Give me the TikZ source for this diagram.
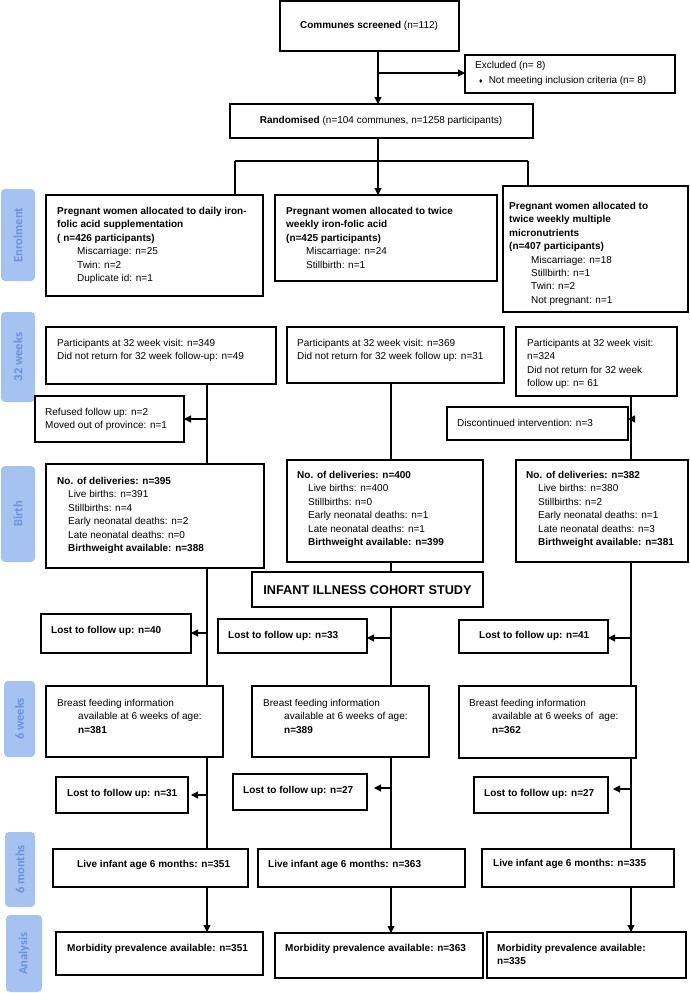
\documentclass[tikz,border=0pt]{standalone}
\usepackage{fontspec}
\setmainfont{Liberation Sans}
\newfontfamily\lblfont{Carlito}
\usetikzlibrary{arrows.meta,fit}
\definecolor{lblfill}{RGB}{166,194,240}
\definecolor{lbltext}{RGB}{104,146,222}
\tikzset{
  box/.style={draw=black, line width=1.3pt, inner sep=0pt, outer sep=0pt, rectangle},
  txt/.style={anchor=north west, inner sep=0pt, align=left, font=\fontsize{10}{13.4}\selectfont},
  ctxt/.style={anchor=center, inner sep=0pt, font=\fontsize{10}{13.4}\selectfont},
  lbl/.style={fill=lblfill, rounded corners=4pt, inner sep=0pt, outer sep=0pt},
  lbltxt/.style={rotate=90, text=lbltext, inner sep=0pt, font=\fontsize{12.5}{12.5}\selectfont\lblfont\bfseries},
  conn/.style={line width=1.1pt},
  arr/.style={conn, -{Triangle[length=7pt,width=7pt]}},
}
\begin{document}
\begin{tikzpicture}[x=1pt,y=-1pt]
\useasboundingbox (0,0) rectangle (689,993);

% ---------- stage labels ----------
\node[lbl, fit={(1,189)(35,281)}] (Lenr) {};
\node[lbltxt] (Lenrt) at (Lenr.center) {Enrolment};
\node[lbl, fit={(1,312)(35,402)}] (L32) {};
\node[lbltxt] (L32t) at (L32.center) {32 weeks};
\node[lbl, fit={(1,466)(35,562)}] (Lbir) {};
\node[lbltxt] (Lbirt) at (Lbir.center) {Birth};
\node[lbl, fit={(4,681)(35,757)}] (L6w) {};
\node[lbltxt] (L6wt) at (L6w.center) {6 weeks};
\node[lbl, fit={(5,832)(35,907)}] (L6m) {};
\node[lbltxt] (L6mt) at (L6m.center) {6 months};
\node[lbl, fit={(6,915)(42,992)}] (Lana) {};
\node[lbltxt] (Lanat) at (Lana.center) {Analysis};

% ---------- top ----------
\node[box, fit={(280,1)(459,51)}] (top) {};
\node[ctxt] (topt) at (369,26) {\textbf{Communes screened} (n=112)};
\node[box, fit={(465,55)(675,93)}] (excl) {};
\node[txt] (exclt) at (475,61) {Excluded (n= 8)\\[1.5pt]\hspace*{4pt}{\fontsize{7}{7}\selectfont ♦}\hspace*{6pt}Not meeting inclusion criteria (n= 8)};
\node[box, fit={(230,104)(533,138)}] (rand) {};
\node[ctxt] (randt) at (381,121) {\textbf{Randomised} (n=104 communes, n=1258 participants)};

% ---------- enrolment ----------
\node[box, fit={(46,195)(263,296)}] (e1) {};
\node[txt] (e1t) at (57,207) {\textbf{Pregnant women allocated to daily iron-}\\\textbf{folic acid supplementation}\\\textbf{( n=426 participants)}\\\hspace*{20pt}Miscarriage: n=25\\\hspace*{20pt}Twin: n=2\\\hspace*{20pt}Duplicate id: n=1};
\node[box, fit={(275,195)(497,281)}] (e2) {};
\node[txt] (e2t) at (286,207) {\textbf{Pregnant women allocated to twice}\\\textbf{weekly iron-folic acid}\\\textbf{(n=425 participants)}\\\hspace*{20pt}Miscarriage: n=24\\\hspace*{20pt}Stillbirth: n=1};
\node[box, fit={(503,186)(688,312)}] (e3) {};
\node[txt] (e3t) at (509,202) {\textbf{Pregnant women allocated to}\\\textbf{twice weekly multiple}\\\textbf{micronutrients}\\\textbf{(n=407 participants)}\\\hspace*{22pt}Miscarriage: n=18\\\hspace*{22pt}Stillbirth: n=1\\\hspace*{22pt}Twin: n=2\\\hspace*{22pt}Not pregnant: n=1};

% ---------- 32 weeks ----------
\node[box, fit={(46,327)(276,384)}] (w1) {};
\node[txt] (w1t) at (57,339) {Participants at 32 week visit: n=349\\Did not return for 32 week follow-up: n=49};
\node[box, fit={(287,327)(504,383)}] (w2) {};
\node[txt] (w2t) at (297,339) {Participants at 32 week visit: n=369\\Did not return for 32 week follow up: n=31};
\node[box, fit={(516,327)(677,396)}] (w3) {};
\node[txt] (w3t) at (527,339) {Participants at 32 week visit:\\n=324\\Did not return for 32 week\\follow up: n= 61};
\node[box, fit={(35,396)(184,442)}] (ref) {};
\node[txt] (reft) at (45,408) {Refused follow up: n=2\\Moved out of province: n=1};
\node[box, fit={(447,407)(628,440)}] (disc) {};
\node[txt] (disct) at (457,419) {Discontinued intervention: n=3};

% ---------- birth ----------
\node[box, fit={(46,464)(264,568)}] (b1) {};
\node[txt] (b1t) at (57,477) {\textbf{No. of deliveries: n=395}\\\hspace*{11pt}Live births: n=391\\\hspace*{11pt}Stillbirths: n=4\\\hspace*{11pt}Early neonatal deaths: n=2\\\hspace*{11pt}Late neonatal deaths: n=0\\\hspace*{11pt}\textbf{Birthweight available: n=388}};
\node[box, fit={(287,460)(483,562)}] (b2) {};
\node[txt] (b2t) at (297,471) {\textbf{No. of deliveries: n=400}\\\hspace*{11pt}Live births: n=400\\\hspace*{11pt}Stillbirths: n=0\\\hspace*{11pt}Early neonatal deaths: n=1\\\hspace*{11pt}Late neonatal deaths: n=1\\\hspace*{11pt}\textbf{Birthweight available: n=399}};
\node[box, fit={(516,460)(688,562)}] (b3) {};
\node[txt] (b3t) at (526,471) {\textbf{No. of deliveries: n=382}\\\hspace*{12pt}Live births: n=380\\\hspace*{12pt}Stillbirths: n=2\\\hspace*{12pt}Early neonatal deaths: n=1\\\hspace*{12pt}Late neonatal deaths: n=3\\\hspace*{12pt}\textbf{Birthweight available: n=381}};
\node[box, fit={(252,572)(483,607)}] (ill) {};
\node[anchor=center, inner sep=0pt, font=\fontsize{12.7}{14}\selectfont\bfseries] (illt) at (367.5,590) {INFANT ILLNESS COHORT STUDY};
\node[box, fit={(41,614)(191,653)}] (l40) {};
\node[txt] (l40t) at (51,626) {\textbf{Lost to follow up: n=40}};
\node[box, fit={(218,619)(367,653)}] (l33) {};
\node[txt] (l33t) at (228,631) {\textbf{Lost to follow up: n=33}};
\node[box, fit={(459,620)(608,653)}] (l41) {};
\node[txt] (l41t) at (479,631) {\textbf{Lost to follow up: n=41}};

% ---------- 6 weeks ----------
\node[box, fit={(46,686)(223,757)}] (s1) {};
\node[txt] (s1t) at (57,699) {Breast feeding information\\\hspace*{21pt}available at 6 weeks of age:\\\hspace*{21pt}\textbf{n=381}};
\node[box, fit={(252,686)(429,757)}] (s2) {};
\node[txt] (s2t) at (263,699) {Breast feeding information\\\hspace*{21pt}available at 6 weeks of age:\\\hspace*{21pt}\textbf{n=389}};
\node[box, fit={(459,686)(636,758)}] (s3) {};
\node[txt] (s3t) at (469,699) {Breast feeding information\\\hspace*{23pt}available at 6 weeks of\ \ age:\\\hspace*{23pt}\textbf{n=362}};
\node[box, fit={(56,777)(188,813)}] (l31) {};
\node[txt] (l31t) at (67,789) {\textbf{Lost to follow up: n=31}};
\node[box, fit={(233,774)(367,810)}] (l27a) {};
\node[txt] (l27at) at (243,786) {\textbf{Lost to follow up: n=27}};
\node[box, fit={(474,777)(608,813)}] (l27b) {};
\node[txt] (l27bt) at (484,789) {\textbf{Lost to follow up: n=27}};

% ---------- 6 months ----------
\node[box, fit={(53,849)(248,887)}] (m1) {};
\node[txt] (m1t) at (77,860) {\textbf{Live infant age 6 months: n=351}};
\node[box, fit={(258,849)(465,887)}] (m2) {};
\node[txt] (m2t) at (268,860) {\textbf{Live infant age 6 months: n=363}};
\node[box, fit={(482,849)(674,887)}] (m3) {};
\node[txt] (m3t) at (493,859) {\textbf{Live infant age 6 months: n=335}};

% ---------- analysis ----------
\node[box, fit={(56,932)(263,975)}] (a1) {};
\node[txt] (a1t) at (67,944) {\textbf{Morbidity prevalence available: n=351}};
\node[box, fit={(275,933)(483,978)}] (a2) {};
\node[txt] (a2t) at (285,944) {\textbf{Morbidity prevalence available: n=363}};
\node[box, fit={(487,932)(686,978)}] (a3) {};
\node[txt] (a3t) at (497,944) {\textbf{Morbidity prevalence available:}\\\textbf{n=335}};

% ---------- connectors ----------
\coordinate (cx) at (378,0);
\coordinate (jx) at (378,73);
\coordinate (bj) at (378,161);
\coordinate (bl) at (235,161);
\coordinate (br) at (528,161);
\coordinate (cl) at (207,0);
\coordinate (cm) at (391,0);
\coordinate (cr) at (631,0);

\draw[arr] (top.south -| cx) -- (rand.north -| cx);
\draw[arr] (jx) -- (jx -| excl.west);
\draw[conn] (rand.south -| bj) -- (bj);
\draw[conn] (bl) -- (br);
\draw[conn] (bl) -- (bl |- e1.north);
\draw[arr] (bj) -- (bj |- e2.north);
\draw[conn] (br) -- (br |- e3.north);

% left column
\coordinate (jref) at (207,419);
\coordinate (jl40) at (207,633);
\coordinate (jl31) at (207,795);
\draw[conn] (w1.south -| cl) -- (b1.north -| cl);
\draw[arr] (jref) -- (jref -| ref.east);
\draw[conn] (b1.south -| cl) -- (s1.north -| cl);
\draw[arr] (jl40) -- (jl40 -| l40.east);
\draw[conn] (s1.south -| cl) -- (m1.north -| cl);
\draw[arr, shorten >=3pt] (jl31) -- (jl31 -| l31.east);
\draw[arr] (m1.south -| cl) -- (a1.north -| cl);

% middle column
\coordinate (jl33) at (391,638);
\coordinate (jl27a) at (391,788);
\draw[conn] (w2.south -| cm) -- (b2.north -| cm);
\draw[conn] (b2.south -| cm) -- (ill.north -| cm);
\draw[conn] (ill.south -| cm) -- (s2.north -| cm);
\draw[arr] (jl33) -- (jl33 -| l33.east);
\draw[conn] (s2.south -| cm) -- (m2.north -| cm);
\draw[arr, shorten >=7pt] (jl27a) -- (jl27a -| l27a.east);
\draw[arr] (m2.south -| cm) -- (a2.north -| cm);

% right column
\coordinate (jdisc) at (631,419);
\coordinate (jl41) at (631,638);
\coordinate (jl27b) at (631,789);
\draw[conn] (w3.south -| cr) -- (b3.north -| cr);
\draw[arr] (jdisc) -- (jdisc -| disc.east);
\draw[conn] (b3.south -| cr) -- (s3.north -| cr);
\draw[arr] (jl41) -- (jl41 -| l41.east);
\draw[conn] (s3.south -| cr) -- (m3.north -| cr);
\draw[arr, shorten >=5pt] (jl27b) -- (jl27b -| l27b.east);
\draw[arr] (m3.south -| cr) -- (a3.north -| cr);
\end{tikzpicture}
\end{document}
